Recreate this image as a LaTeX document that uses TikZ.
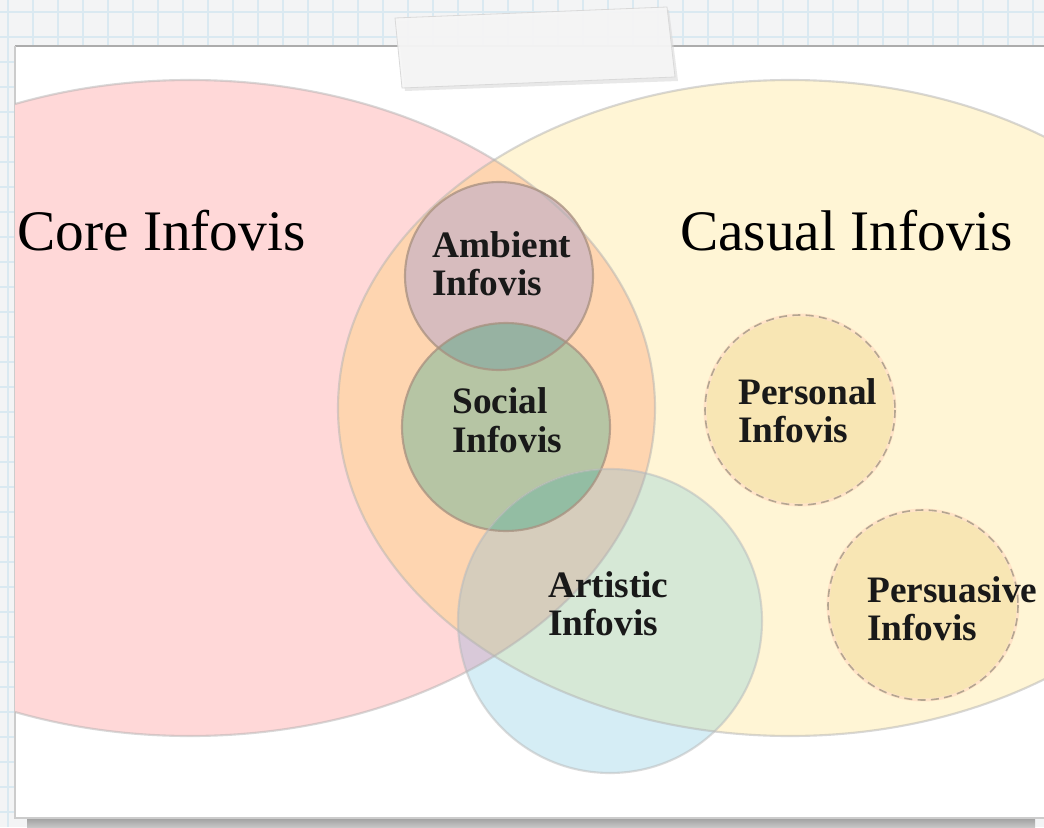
\documentclass[tikz,border=0pt]{standalone}
\usepackage{fontspec}
\setmainfont{Liberation Serif}
\definecolor{bgc}{HTML}{F3F4F5}
\definecolor{gridc}{HTML}{DAE9F1}
\definecolor{pinkc}{HTML}{FFD8D8}
\definecolor{yelc}{HTML}{FFF5D5}
\definecolor{orac}{HTML}{FED5B0}
\definecolor{ambc}{HTML}{D7BCBE}
\definecolor{socc}{HTML}{B6C5A4}
\definecolor{ambsocc}{HTML}{97B2A2}
\definecolor{artw}{HTML}{D5EDF5}
\definecolor{arty}{HTML}{D6E8D6}
\definecolor{artp}{HTML}{D9C9D9}
\definecolor{arto}{HTML}{D6CDBC}
\definecolor{artsoc}{HTML}{93BDA3}
\definecolor{persc}{HTML}{F8E6B4}
\definecolor{circline}{HTML}{A8907F}
\definecolor{dashline}{HTML}{A89C88}
\tikzset{
  gridline/.style={draw=gridc, line width=0.9pt},
  eline/.style={draw=gray!60, draw opacity=0.5, line width=1.6pt},
  cline/.style={draw=circline, draw opacity=0.75, line width=1.6pt},
  aline/.style={draw=gray!55, draw opacity=0.5, line width=1.6pt},
  dline/.style={draw=dashline, draw opacity=0.85, line width=1.2pt, dash pattern=on 6pt off 4pt},
  halo/.style={draw=orange!22, line width=2.2pt},
  bigtitle/.style={inner sep=0pt, anchor=base west, font=\fontsize{43}{43}\selectfont},
  lbl/.style={inner sep=0pt, anchor=base west, font=\fontsize{28}{28}\selectfont\bfseries, text=black!90},
}
\begin{document}
\begin{tikzpicture}[x=0.75pt,y=-0.75pt]
\useasboundingbox (0,0) rectangle (1044,827);
% graph paper
\fill[bgc] (0,0) rectangle (1044,827);
\foreach \gx in {8,33,...,1044} \draw[gridline] (\gx,0) -- (\gx,827);
\foreach \gy in {12,37,...,827} \draw[gridline] (0,\gy) -- (1044,\gy);
% paper shadow and sheet
\shade[top color=gray!75, bottom color=gray!45] (27,818) rectangle (1035,827);
\fill[white] (15,46) rectangle (1050,818);
\draw[gray!65, line width=1.3pt] (15,46) -- (1044,46);
\draw[gray!40, line width=0.8pt] (15,46) -- (15,818) -- (1044,818);
\begin{scope}
\clip (15,46) rectangle (1044,818);
% big ellipses
\fill[pinkc] (190,408) ellipse [x radius=465, y radius=328];
\fill[yelc] (790,408) ellipse [x radius=452, y radius=328];
\begin{scope}
  \clip (190,408) ellipse [x radius=465, y radius=328];
  \fill[orac] (790,408) ellipse [x radius=452, y radius=328];
\end{scope}
% ambient and social
\fill[ambc] (499,276) circle [radius=94];
\fill[socc] (506,427) circle [radius=104];
\begin{scope}
  \clip (499,276) circle [radius=94];
  \fill[ambsocc] (506,427) circle [radius=104];
\end{scope}
% artistic
\fill[artw] (610,621) circle [radius=152];
\begin{scope}
  \clip (610,621) circle [radius=152];
  \fill[arty] (790,408) ellipse [x radius=452, y radius=328];
  \fill[artp] (190,408) ellipse [x radius=465, y radius=328];
  \clip (190,408) ellipse [x radius=465, y radius=328];
  \fill[arto] (790,408) ellipse [x radius=452, y radius=328];
\end{scope}
\begin{scope}
  \clip (610,621) circle [radius=152];
  \fill[artsoc] (506,427) circle [radius=104];
\end{scope}
% personal and persuasive
\fill[persc] (800,410) circle [radius=95];
\fill[persc] (923,605) circle [radius=95];
\draw[halo] (800,410) circle [radius=95];
\draw[halo] (923,605) circle [radius=95];
\draw[dline] (800,410) circle [radius=95];
\draw[dline] (923,605) circle [radius=95];
% outlines
\draw[eline] (190,408) ellipse [x radius=465, y radius=328];
\draw[eline] (790,408) ellipse [x radius=452, y radius=328];
\draw[cline] (499,276) circle [radius=94];
\draw[cline] (506,427) circle [radius=104];
\draw[aline] (610,621) circle [radius=152];
\end{scope}
% tape
\fill[gray!30, opacity=0.6] (397,21) -- (669,10) -- (678,81) -- (405,91) -- cycle;
\fill[white!93!gray, opacity=0.9] (395,18) -- (667,7) -- (675,77) -- (402,88) -- cycle;
\draw[gray!30, line width=0.6pt] (395,18) -- (667,7) -- (675,77) -- (402,88) -- cycle;
% texts
\node[bigtitle] (core) at (17,250) {Core Infovis};
\node[bigtitle] (casual) at (680,250) {Casual Infovis};
\node[lbl] (amb1) at (432,257) {Ambient};
\node[lbl] (amb2) at (432,295) {Infovis};
\node[lbl] (soc1) at (452,413) {Social};
\node[lbl] (soc2) at (452,452) {Infovis};
\node[lbl] (art1) at (548,597) {Artistic};
\node[lbl] (art2) at (548,635) {Infovis};
\node[lbl] (per1) at (738,404) {Personal};
\node[lbl] (per2) at (738,442) {Infovis};
\node[lbl] (pers1) at (867,602) {Persuasive};
\node[lbl] (pers2) at (867,640) {Infovis};
\end{tikzpicture}
\end{document}
